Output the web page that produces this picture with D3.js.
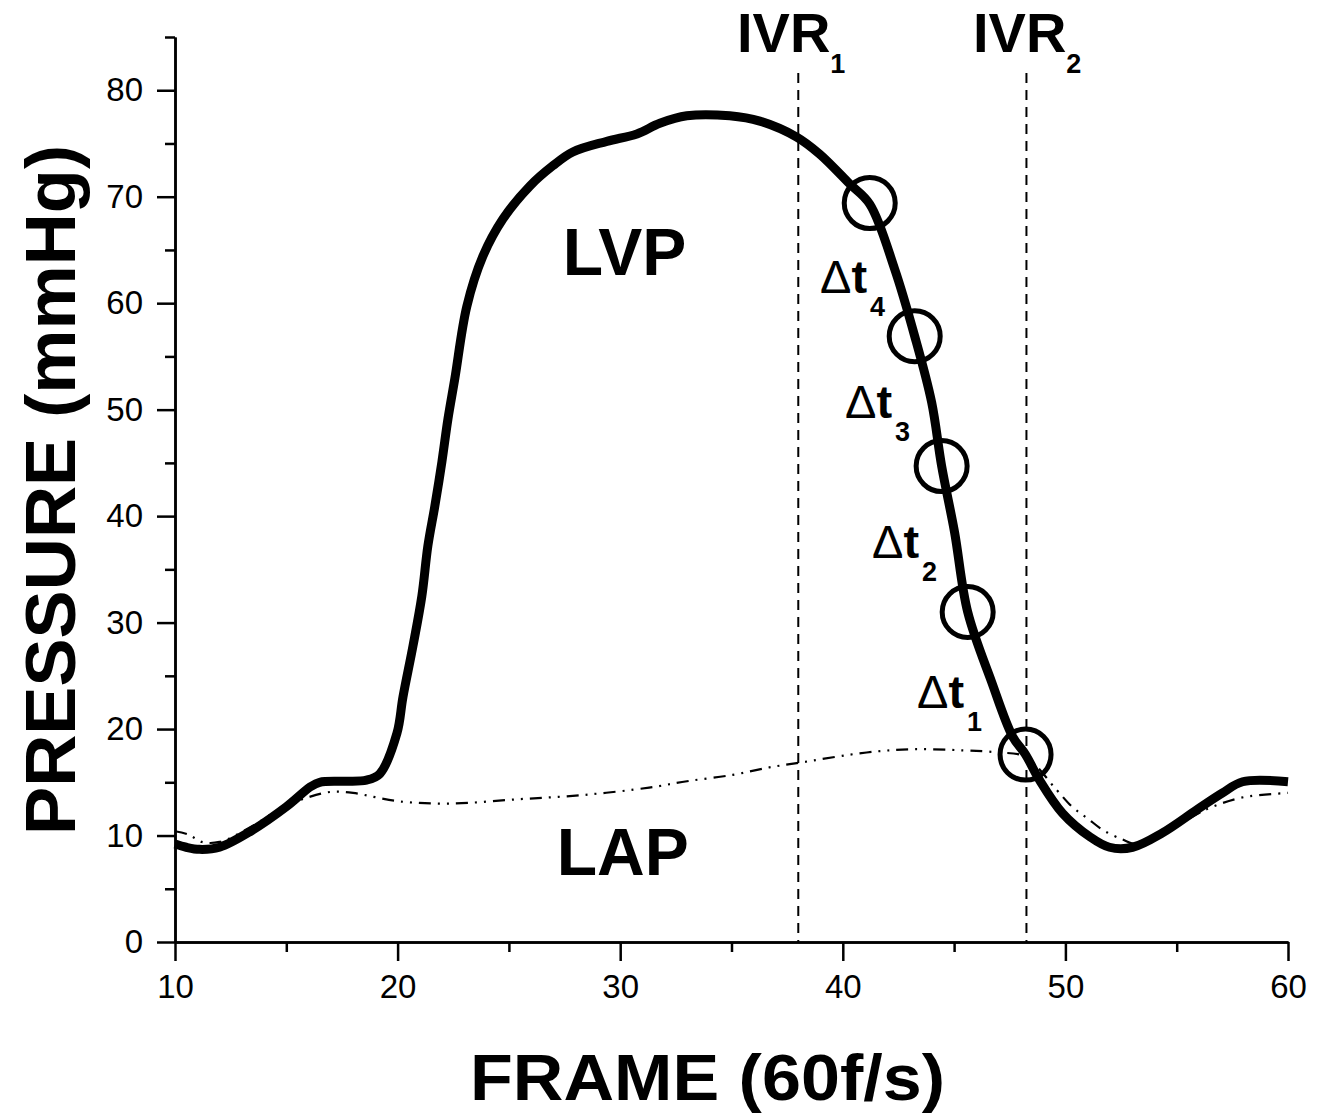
<!DOCTYPE html>
<html>
<head>
<meta charset="utf-8">
<script src="https://cdn.jsdelivr.net/npm/d3@7/dist/d3.min.js"></script>
<style>
    body { margin: 0; background: #fff; }
    svg text { font-family: "Liberation Sans", Arial, sans-serif; fill: #000; }
    .axis path, .axis line { stroke: #000; stroke-width: 2.5px; }
    .axis text { font-size: 33px; font-family: "Liberation Sans", Arial, sans-serif; }
</style>
</head>
<body>
<div id="chart"></div>
<script>
"use strict";
// LVP trace (thick) and LAP trace (dash-dot)
var lvpFrame = [10.0, 10.5, 11.1, 12.0, 13.4, 15.0, 16.1, 16.5, 17.5, 18.6, 19.2, 19.97, 20.24, 20.69, 21.09, 21.36, 21.67, 21.99, 22.26, 22.57, 23.11, 23.83, 24.73, 25.94, 26.97, 27.87, 29.4, 30.75, 31.78, 32.99, 34.92, 36.27, 37.93, 38.96, 40.31, 41.21, 42.33, 43.23, 43.99, 44.44, 45.02, 45.61, 46.69, 47.63, 48.21, 48.84, 49.87, 51.09, 51.98, 53.02, 54.36, 55.89, 57.06, 57.96, 60.0];
var lvpPressure = [9.2, 8.9, 8.7, 8.9, 10.4, 12.7, 14.6, 15.0, 15.1, 15.2, 15.8, 19.6, 23.0, 27.8, 32.5, 37.2, 40.9, 45.1, 49.1, 52.9, 59.7, 64.4, 67.9, 71.0, 72.9, 74.2, 75.2, 75.9, 76.9, 77.6, 77.6, 77.1, 75.6, 74.0, 71.2, 69.3, 63.2, 56.9, 50.7, 44.7, 38.5, 31.0, 24.4, 19.3, 17.6, 15.2, 12.1, 9.9, 8.9, 8.9, 10.25, 12.4, 14.0, 15.05, 15.05];
var lapFrame = [10.0, 10.6, 11.2, 12.0, 13.4, 14.8, 16.0, 17.0, 18.0, 19.0, 20.1, 22.35, 25.36, 28.3, 31.3, 33.0, 35.06, 36.7, 37.93, 41.07, 43.1, 45.4, 47.0, 48.2, 49.6, 50.3, 51.0, 51.7, 52.6, 53.2, 54.5, 55.9, 56.6, 58.0, 60.0];
var lapPressure = [10.4, 10.1, 9.4, 9.4, 10.8, 12.6, 13.6, 14.1, 14.0, 13.6, 13.2, 13.0, 13.4, 13.8, 14.5, 15.1, 15.7, 16.4, 16.8, 17.8, 18.1, 18.0, 17.8, 17.4, 14.3, 12.7, 11.6, 10.5, 9.6, 9.2, 10.3, 12.0, 12.7, 13.6, 14.0];
// circled sample points on the relaxation limb
var markFrame = [41.21, 43.23, 44.44, 45.61, 48.21];
var markPressure = [69.4, 56.9, 44.7, 31.0, 17.6];
var dtNames = ["4", "3", "2", "1"];
var ivrFrame = [38.0, 48.25];
var ivrNames = ["1", "2"];
var xTicks = [10, 20, 30, 40, 50, 60];
var xMinor = [15, 25, 35, 45, 55];
var yTicks = [0, 10, 20, 30, 40, 50, 60, 70, 80];
var yMinor = [5, 15, 25, 35, 45, 55, 65, 75, 85];

var width = 1324,
    height = 1118;
var svg = d3.select("#chart")
    .append("svg")
    .attr("width", width)
    .attr("height", height);

var x = d3.scaleLinear().domain([10, 60]).range([175, 1288]);
var y = d3.scaleLinear().domain([0, 85]).range([942, 37]);

// axes
svg.append("g")
    .attr("class", "axis")
    .attr("transform", "translate(0,942)")
    .call(d3.axisBottom(x).tickValues(xTicks).tickSize(19).tickSizeOuter(0).tickPadding(14).tickFormat(d3.format("d")));
svg.append("g")
    .attr("class", "axis")
    .attr("transform", "translate(0,942)")
    .call(d3.axisBottom(x).tickValues(xMinor).tickSize(10).tickSizeOuter(0).tickFormat(""));
svg.append("g")
    .attr("class", "axis")
    .attr("transform", "translate(175,0)")
    .call(d3.axisLeft(y).tickValues(yTicks).tickSize(18).tickSizeOuter(0).tickPadding(14).tickFormat(d3.format("d")));
svg.append("g")
    .attr("class", "axis")
    .attr("transform", "translate(175,0)")
    .call(d3.axisLeft(y).tickValues(yMinor).tickSize(10).tickSizeOuter(0).tickFormat(""));

// IVR markers
svg.selectAll(".ivr")
    .data(ivrFrame)
    .enter()
    .append("line")
    .attr("class", "ivr")
    .attr("x1", d => x(d))
    .attr("x2", d => x(d))
    .attr("y1", 73)
    .attr("y2", y(0))
    .attr("stroke", "#000")
    .attr("stroke-width", 2)
    .attr("stroke-dasharray", "10,7");

var line = d3.line()
    .x(d => x(d[0]))
    .y(d => y(d[1]))
    .curve(d3.curveCatmullRom.alpha(0.5));

svg.append("path")
    .datum(lapFrame.map((f, i) => [f, lapPressure[i]]))
    .attr("d", line)
    .attr("fill", "none")
    .attr("stroke", "#000")
    .attr("stroke-width", 2.2)
    .attr("stroke-dasharray", "12,7,2,7,2,7");

svg.append("path")
    .datum(lvpFrame.map((f, i) => [f, lvpPressure[i]]))
    .attr("d", line)
    .attr("fill", "none")
    .attr("stroke", "#000")
    .attr("stroke-width", 9)
    .attr("stroke-linejoin", "round");

svg.selectAll(".mark")
    .data(markFrame)
    .enter()
    .append("circle")
    .attr("class", "mark")
    .attr("cx", d => x(d))
    .attr("cy", (d, i) => y(markPressure[i]))
    .attr("r", 25.5)
    .attr("fill", "none")
    .attr("stroke", "#000")
    .attr("stroke-width", 5);

// labels
svg.append("text")
    .attr("x", x(27.42))
    .attr("y", 275)
    .attr("font-size", 66)
    .attr("font-weight", "bold")
    .text("LVP");
svg.append("text")
    .attr("x", x(27.15))
    .attr("y", 875)
    .attr("font-size", 66)
    .attr("font-weight", "bold")
    .text("LAP");

var ivrLabelX = [737, 973];
ivrNames.forEach((n, i) => {
    var t = svg.append("text")
        .attr("x", ivrLabelX[i])
        .attr("y", 52)
        .attr("font-size", 56)
        .attr("font-weight", "bold");
    t.append("tspan").text("IVR");
    t.append("tspan").attr("font-size", 27).attr("dy", 21).text(n);
});

var dtX = [820, 845, 872, 917],
    dtY = [293, 418, 558, 708];
dtNames.forEach((n, i) => {
    var t = svg.append("text")
        .attr("x", dtX[i])
        .attr("y", dtY[i])
        .attr("font-size", 47);
    t.append("tspan").text("\u0394");
    t.append("tspan").attr("font-weight", "bold").text("t");
    t.append("tspan").attr("font-weight", "bold").attr("font-size", 27).attr("dx", 3).attr("dy", 23).text(n);
});

svg.append("text")
    .attr("x", 470)
    .attr("y", 1100)
    .attr("font-size", 64)
    .attr("font-weight", "bold")
    .attr("textLength", 475)
    .attr("lengthAdjust", "spacingAndGlyphs")
    .text("FRAME (60f/s)");
svg.append("text")
    .attr("transform", "translate(75,835) rotate(-90)")
    .attr("font-size", 70)
    .attr("font-weight", "bold")
    .attr("textLength", 690)
    .attr("lengthAdjust", "spacingAndGlyphs")
    .text("PRESSURE (mmHg)");
</script>
</body>
</html>
